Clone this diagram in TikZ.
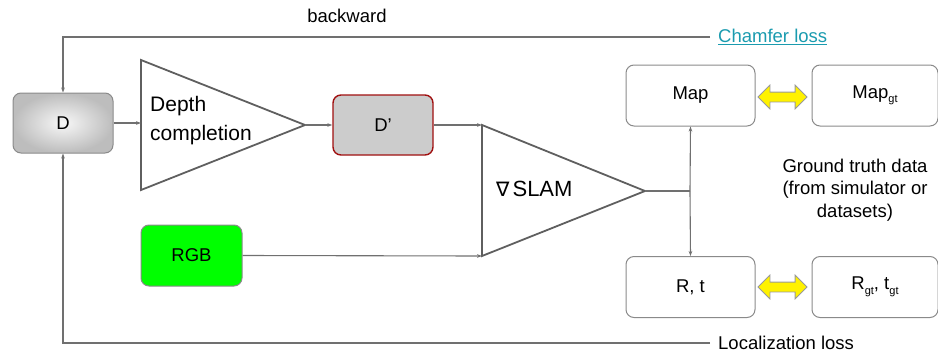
\documentclass[tikz,border=0pt]{standalone}
\usepackage{fontspec}
\setmainfont{Liberation Sans}
\newfontfamily\symfont{DejaVu Sans}
\usetikzlibrary{arrows.meta,shapes.arrows,calc}
\definecolor{linegray}{HTML}{707070}
\definecolor{trigray}{HTML}{5F5F5F}
\definecolor{boxgray}{HTML}{8A8A8A}
\definecolor{linkteal}{HTML}{1A9BAF}
\definecolor{darkred}{HTML}{A01010}
\newcommand{\sgt}{\raisebox{-4.5pt}{\fontsize{11}{11}\selectfont gt}}
\tikzset{
  px/.style={x=1pt,y=-1pt},
  conn/.style={draw=linegray,line width=1.1pt},
  arr/.style={conn,-{Stealth[length=5pt,width=3.6pt]}},
  tri/.style={draw=trigray,line width=1.8pt,line join=miter},
  rbox/.style={draw=boxgray,line width=1pt,rounded corners=8pt,minimum width=129pt,minimum height=61pt,font=\fontsize{18.5}{22}\selectfont},
  dbox/.style={draw=boxgray,line width=1pt,rounded corners=8pt,minimum width=100pt,minimum height=60pt,font=\fontsize{18.5}{22}\selectfont},
  label/.style={font=\fontsize{18.5}{22}\selectfont,inner sep=0pt},
  swap/.style={double arrow,fill=yellow,draw=gray!80,line width=0.8pt,inner xsep=0pt,inner ysep=4.5pt,double arrow head extend=7pt,minimum height=49pt,double arrow tip angle=90},
}
\begin{document}
\begin{tikzpicture}[px]
\useasboundingbox (0,0) rectangle (938,354);

% input depth and RGB
\node[dbox,shading=radial,inner color=gray!6,outer color=gray!52] (D) at (63,123) {D};
\node[dbox,fill=gray!40,draw=darkred,line width=1.4pt] (Dp) at (383,125) {D'};
\node[dbox,fill=green,minimum width=101pt,minimum height=61pt] (rgb) at (191.5,255.5) {RGB};

% depth completion block
\draw[tri] (141,60) -- (305,125) -- (141,190) -- cycle;
\coordinate (dcin) at (141,123);
\coordinate (dcout) at (305,125);
\node[label,font=\fontsize{21}{29}\selectfont,align=left,anchor=west] (dctext) at (150,121) {Depth\\completion};

% differentiable SLAM block
\draw[tri] (482,125) -- (645,191) -- (482,256) -- cycle;
\coordinate (slamtop) at (482,125);
\coordinate (slamrgb) at (482,256);
\coordinate (slamout) at (645,191);
\coordinate (split) at (690,191);
\node[label,font=\fontsize{22}{25}\selectfont,anchor=west] (slamtext) at (496,189) {{\symfont\fontsize{20}{22}\selectfont\symbol{"2207}}\hspace{3pt}SLAM};

% outputs and ground truth
\node[rbox] (map) at (690.5,95.5) {Map};
\node[rbox,minimum width=126pt] (mapgt) at (875,95.5) {Map\sgt};
\node[rbox] (rt) at (690.5,287) {R, t};
\node[rbox,minimum width=126pt] (rtgt) at (875,287) {R\sgt, t\sgt};
\node[swap] (sw1) at (782.5,97) {};
\node[swap] (sw2) at (782.5,287) {};
\node[label,align=center,font=\fontsize{18.5}{22.5}\selectfont] (gttext) at (855,190) {Ground truth data\\(from simulator or\\datasets)};

% forward flow
\draw[arr] (D.east) -- (dcin);
\draw[arr] (dcout) -- (Dp.west);
\draw[arr] (Dp.east) -- (slamtop);
\draw[arr] (rgb.east) -- (slamrgb);
\draw[conn] (slamout) -- (split);
\draw[arr] (split) -- (map.south);
\draw[arr] (split) -- (rt.north);

% loss feedback
\node[label,anchor=west,text=linkteal] (chamfer) at (718,37) {\underline{Chamfer loss}};
\node[label,anchor=west] (loc) at (718,343) {Localization loss};
\node[label] (bw) at (347,16) {backward};
\coordinate (cl) at (710,37);
\coordinate (ll) at (710,343);
\draw[arr] (cl) -- (63,37) -- (D.north);
\draw[arr] (ll) -- (63,343) -- (D.south);
\end{tikzpicture}
\end{document}
